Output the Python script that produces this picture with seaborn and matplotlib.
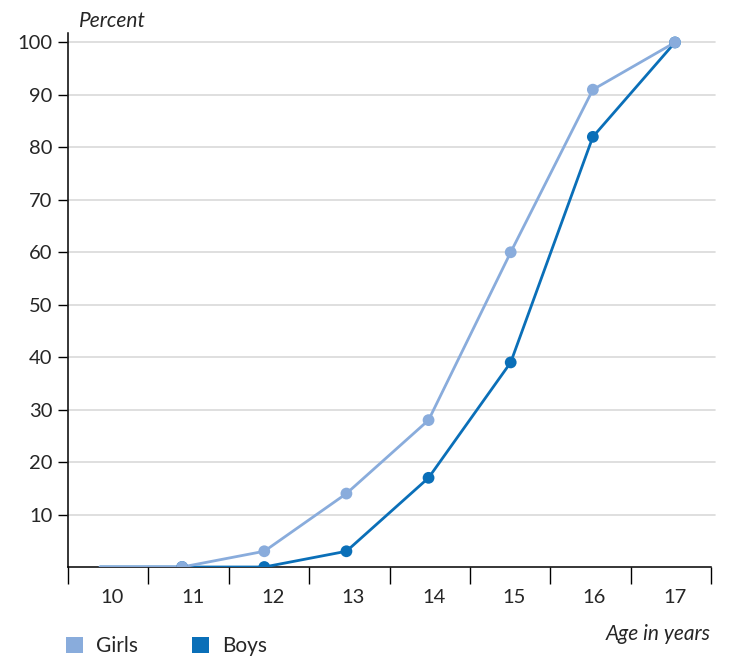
import matplotlib
matplotlib.use("Agg")
import matplotlib.pyplot as plt
import seaborn as sns
import pandas as pd
import numpy as np
from matplotlib.patches import Patch

ages = [10, 11, 12, 13, 14, 15, 16, 17]
girls = [0, 0, 3, 14, 28, 60, 91, 100]
boys = [0, 0, 0, 3, 17, 39, 82, 100]
y_ticks = [10, 20, 30, 40, 50, 60, 70, 80, 90, 100]

sns.set_style("white")
plt.rcParams['font.family'] = ['Lato', 'DejaVu Sans']

GIRL_C = "#89acdc"
BOY_C = "#0a6fb8"

rows = []
for i, a in enumerate(ages):
    pos = -0.102 + 1.022 * i
    rows.append({"pos": pos, "age": a, "Percent": boys[i], "Group": "Boys"})
for i, a in enumerate(ages):
    pos = -0.102 + 1.022 * i
    rows.append({"pos": pos, "age": a, "Percent": girls[i], "Group": "Girls"})
df = pd.DataFrame(rows)

fig = plt.figure(figsize=(7.33, 6.57), dpi=100)
ax = fig.add_axes([68/733, 90/657, (711-68)/733, (567-33)/657])

pal = {"Girls": GIRL_C, "Boys": BOY_C}
sns.lineplot(data=df, x="pos", y="Percent", hue="Group", hue_order=["Boys", "Girls"],
             palette=pal, linewidth=2.0, legend=False, ax=ax, zorder=3)
sub = df[df["age"] > 10]
for g in ["Boys", "Girls"]:
    sns.scatterplot(data=sub[sub["Group"] == g], x="pos", y="Percent", color=pal[g],
                    s=72, edgecolor="none", legend=False, ax=ax, zorder=4)

ax.set_xlim(-0.5, 7.5)
ax.set_ylim(0, 101.8)

ax.set_yticks(y_ticks)
ax.set_yticklabels([str(v) for v in y_ticks], fontsize=14.5)
ax.tick_params(axis="y", direction="out", length=7, width=1, color="black", pad=4, left=True)
for v in y_ticks:
    ax.axhline(v, color="#d9d9d9", lw=1.2, zorder=1, clip_on=False, xmin=0, xmax=1.006)

ax.set_xticks(np.arange(-0.5, 8.0, 1.0))
ax.set_xticklabels([])
ax.tick_params(axis="x", which="major", direction="out", length=12, width=1, color="black", bottom=True)
ax.set_xticks(np.arange(0, 8) + 0.05, minor=True)
ax.set_xticklabels([str(a) for a in ages], minor=True, fontsize=14.5)
ax.tick_params(axis="x", which="minor", length=0, pad=16)

for s in ["top", "right"]:
    ax.spines[s].set_visible(False)
for s in ["left", "bottom"]:
    ax.spines[s].set_color("black")
    ax.spines[s].set_linewidth(1.1)

ax.set_xlabel("")
ax.set_ylabel("")

fig.text(79/733, 1 - 21/657, "Percent", fontsize=15, style="italic", va="center", ha="left")
fig.text(711/733, 1 - 634/657, "Age in years", fontsize=15, style="italic", va="center", ha="right")

handles = [Patch(facecolor=GIRL_C, edgecolor="none", label="Girls"),
           Patch(facecolor=BOY_C, edgecolor="none", label="Boys")]
fig.legend(handles=handles, loc="center left", bbox_to_anchor=(66/733, 1 - 646/657),
           ncol=2, frameon=False, fontsize=15, handlelength=0.8, handleheight=0.8,
           handletextpad=0.65, columnspacing=2.6, borderaxespad=0, borderpad=0)

fig.savefig("out.png", dpi=100)
